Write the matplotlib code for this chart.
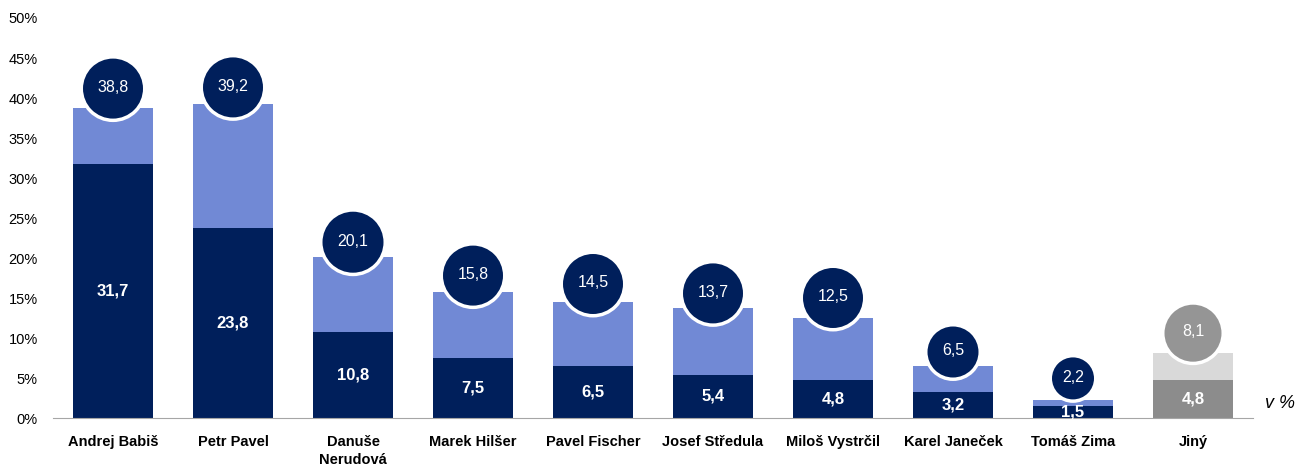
import matplotlib.pyplot as plt

plt.rcParams['font.family'] = ['Liberation Sans', 'DejaVu Sans']

# candidates and results (in %)
candidates = ['Andrej Babiš', 'Petr Pavel', 'Danuše\nNerudová', 'Marek Hilšer', 'Pavel Fischer',
              'Josef Středula', 'Miloš Vystrčil', 'Karel Janeček', 'Tomáš Zima', 'Jiný']
firm = [31.7, 23.8, 10.8, 7.5, 6.5, 5.4, 4.8, 3.2, 1.5, 4.8]
total = [38.8, 39.2, 20.1, 15.8, 14.5, 13.7, 12.5, 6.5, 2.2, 8.1]
yticks = [0, 5, 10, 15, 20, 25, 30, 35, 40, 45, 50]

# circle look (diameter and lift above the bar, in pixels)
circle_d = [60, 60, 61, 60, 60, 60, 60, 51, 42, 57]
circle_lift = [19, 17, 15, 16, 18, 15, 20, 14, 22, 20]

dark = '#001f5b'
light = '#7189d5'
grey_dark = '#8c8c8c'
grey_light = '#d9d9d9'

fig = plt.figure(figsize=(13.04, 4.65), dpi=100)
ax = fig.add_axes([53 / 1304, 47 / 465, 1200 / 1304, 400 / 465])

x = list(range(len(candidates)))
c_dark = [dark] * 9 + [grey_dark]
c_light = [light] * 9 + [grey_light]
c_circle = [dark] * 9 + ['#959595']
rest = [t - f for t, f in zip(total, firm)]

ax.bar(x, firm, width=0.667, color=c_dark, zorder=2)
ax.bar(x, rest, bottom=firm, width=0.667, color=c_light, zorder=2)

# circles above the bars (8 px = 1 %)
lw = 2.5
cy = [t + l / 8 for t, l in zip(total, circle_lift)]
sizes = [(d * 0.72 + lw) ** 2 for d in circle_d]
ax.scatter(x, cy, s=sizes, c=c_circle, edgecolors='white', linewidths=lw, zorder=3, clip_on=False)
for i in x:
    ax.text(i, cy[i] + 0.15, f'{total[i]:.1f}'.replace('.', ','), ha='center', va='center',
            color='white', fontsize=11.5, zorder=4)
    ax.text(i, firm[i] / 2, f'{firm[i]:.1f}'.replace('.', ','), ha='center', va='center',
            color='white', fontsize=12, fontweight='bold', zorder=4)

ax.set_xlim(-0.5, len(candidates) - 0.5)
ax.set_ylim(0, 50)
ax.set_yticks(yticks)
ax.set_yticklabels([f'{v}%' for v in yticks], fontsize=10.5)
ax.set_xticks(x)
ax.set_xticklabels(candidates, fontsize=10.5, fontweight='bold', linespacing=1.4)
ax.tick_params(axis='x', length=0, pad=12)
ax.tick_params(axis='y', length=0, pad=11)
for s in ['top', 'right', 'left']:
    ax.spines[s].set_visible(False)
ax.spines['bottom'].set_color('#a6a6a6')
ax.text(1.01, 0.015, 'v %', transform=ax.transAxes, fontsize=13, style='italic',
        ha='left', va='bottom')

fig.savefig('out.png', dpi=100)
